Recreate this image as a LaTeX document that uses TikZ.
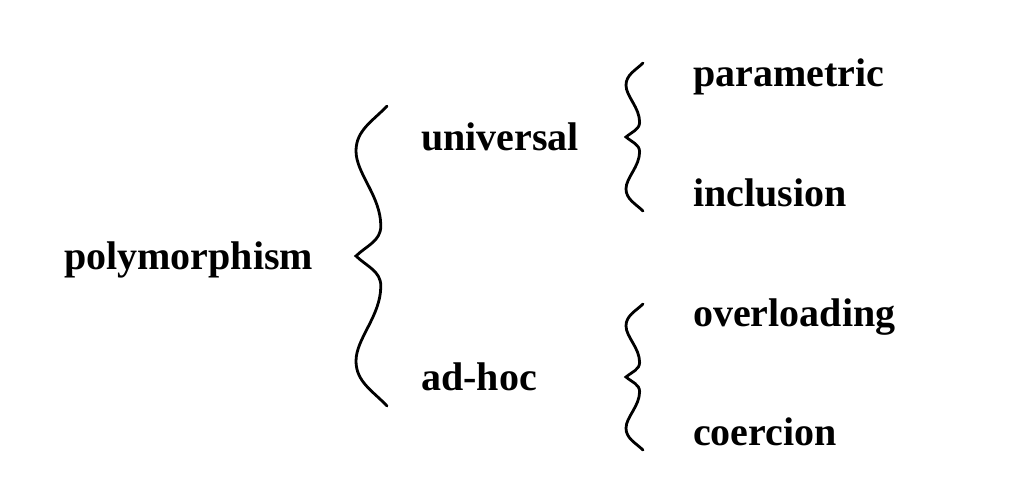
\documentclass[tikz,border=0pt]{standalone}
\usepackage{fontspec}
\setmainfont{Liberation Serif}
\begin{document}
\begin{tikzpicture}[x=1pt,y=-1pt,
  lbl/.style={anchor=base west,inner sep=0pt,font=\fontsize{40}{48}\selectfont\bfseries},
  brc/.style={line width=2.8pt,line join=miter,line cap=round},
  pics/wbrace/.style args={#1/#2}{code={
    \draw[brc] (#1,-#2) .. controls (0.55*#1,-0.9*#2) and (0,-0.84*#2) .. (0,-0.7*#2)
      .. controls (0,-0.55*#2) and (0.8*#1,-0.4*#2) .. (0.8*#1,-0.2*#2)
      .. controls (0.8*#1,-0.1*#2) and (0.35*#1,-0.07*#2) .. (0,0)
      .. controls (0.35*#1,0.07*#2) and (0.8*#1,0.1*#2) .. (0.8*#1,0.2*#2)
      .. controls (0.8*#1,0.4*#2) and (0,0.55*#2) .. (0,0.7*#2)
      .. controls (0,0.84*#2) and (0.55*#1,0.9*#2) .. (#1,#2);
  }}]
\useasboundingbox (0,0) rectangle (1024,496);
\node[lbl] (poly) at (64,269) {polymorphism};
\node[lbl] (univ) at (421,150) {universal};
\node[lbl] (adhoc) at (421,390) {ad-hoc};
\node[lbl] (param) at (693,86) {parametric};
\node[lbl] (incl) at (693,206) {inclusion};
\node[lbl] (over) at (693,326) {overloading};
\node[lbl] (coer) at (693,445) {coercion};
\pic at (356,256) {wbrace={31/150}};
\pic at (626,137) {wbrace={17/74}};
\pic at (626,377) {wbrace={17/73}};
\end{tikzpicture}
\end{document}
